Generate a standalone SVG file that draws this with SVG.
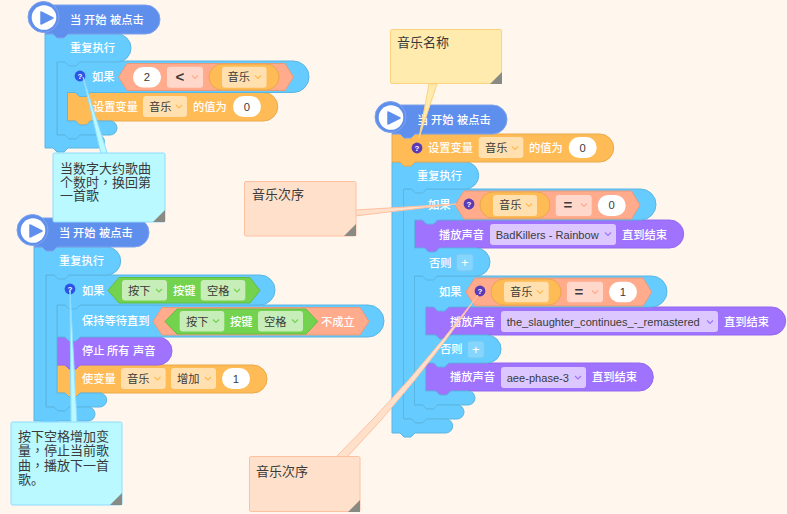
<svg xmlns="http://www.w3.org/2000/svg" width="787" height="514" viewBox="0 0 787 514">
<style>
text{font-family:"Liberation Sans","Noto Sans CJK SC",sans-serif;font-size:11.25px}
.w{fill:#fff;font-weight:500}.d{fill:#3a3a3a}
.l{font-size:11.1px}
.n{font-size:13px;fill:#3a3a3a}
.tc{font-family:"Noto Sans CJK TC",sans-serif}
.hat{fill:#5f8fec;stroke:#7ea2ec;stroke-width:1}
.ctl{fill:#66ccff;stroke:#5ab6e2;stroke-width:1}
.var{fill:#ffbb55;stroke:#e9a94c;stroke-width:1}
.snd{fill:#a073ff;stroke:#9468ee;stroke-width:1}
.op{fill:#ffab8c;stroke:#e8997c;stroke-width:1}
.sen{fill:#73d34f;stroke:#64bb44;stroke-width:1}
.pill{fill:#fff}
.dv{fill:#ffe0ae}.dop{fill:#ffd8cb}.ds{fill:#c7edb9}.dsn{fill:#dcc8ff}
.cv{stroke:#ffbb55}.co{stroke:#ffab8c}.cs{stroke:#73d34f}.cn{stroke:#a073ff}
.help{fill:#2c52e6}.helpv{fill:#5a3bb5}
.q{font-size:8px;font-weight:bold;fill:#fff;text-anchor:middle}
.plus{fill:#85d6ff;stroke:#78c7ee;stroke-width:1}
.nb{fill:#b9f9ff;stroke:#8fdcff;stroke-width:1}
.no{fill:#ffe1cb;stroke:#ffc0a0;stroke-width:1}
.ny{fill:#ffebae;stroke:#ffd27f;stroke-width:1}
.fold{fill:#8a8a84}
use{fill:none;stroke-width:1.2}
</style>
<defs><path id="c" d="M-3-1.5L0 1.5L3-1.5"/></defs>
<rect width="787" height="514" fill="#fff7ee"/>

<g id="block1-set"><path class="var" d="M67.5 92.5H263.5A14.25 14.25 0 0 1 263.5 121H90.5l-4 4h-7l-4-4H67.5Z"/>
<text class="w" x="93" y="111">设置变量</text>
<rect class="dv" x="143" y="96" width="44" height="21" rx="3"/><text class="d" x="149" y="111">音乐</text><use href="#c" x="179" y="106.5" class="cv"/>
<text class="w" x="193" y="111">的值为</text>
<rect class="pill" x="233" y="96" width="28" height="21" rx="10.5"/><text class="d" x="247" y="111" text-anchor="middle">0</text></g>
<g id="block1-if"><path class="ctl" d="M57 61H293.25A15.75 15.75 0 0 1 293.25 92.5H90.5l-4 4h-7l-4-4H67.5V121H75.5l4 4h7l4-4H110a7 7 0 0 1 0 14H80l-4 4h-7l-4-4H57Z"/>
<circle class="help" cx="80" cy="76" r="5.4"/><text class="q" x="80" y="79">?</text>
<text class="w" x="92" y="81">如果</text>
<path class="op" d="M118.5 77L127 63.5H285L293.5 77L285 90.5H127Z"/>
<rect class="pill" x="133" y="67" width="28" height="20.5" rx="10"/><text class="d" x="147" y="81" text-anchor="middle">2</text>
<rect class="dop" x="167" y="66.7" width="36" height="21" rx="3"/><text class="d" x="180" y="82" text-anchor="middle" style="font-size:15px;font-weight:bold">&lt;</text><use href="#c" x="195" y="77" class="co"/>
<rect class="var" x="209" y="64" width="70" height="26" rx="13"/>
<rect class="dv" x="222" y="66.7" width="44.6" height="21" rx="3"/><text class="d" x="227.5" y="81">音乐</text><use href="#c" x="258" y="77" class="cv"/></g>
<g id="block1-repeat"><path class="ctl" d="M45 34H117A14 14 0 0 1 117 62H80l-4 4h-7l-4-4H57V135H65l4 4h7l4-4H98a6.5 6.5 0 0 1 0 13H68l-4 4h-7l-4-4H45Z"/>
<text class="w" x="70" y="52">重复执行</text></g>
<g id="block1-hat"><path class="hat" d="M45 5H145.5A14.5 14.5 0 0 1 145.5 34H68l-4 4h-7l-4-4H45Z"/>
<circle cx="43.5" cy="17" r="15.5" fill="#5f8fec" stroke="#7ea2ec"/><circle cx="44" cy="17.5" r="12.3" fill="#fff"/><path d="M41 12L53 18L41 24Z" fill="#5f8fec" stroke="#5f8fec" stroke-width="1.5" stroke-linejoin="round"/>
<text class="w" x="70" y="24">当</text><text class="w" x="84" y="24">开始</text><text class="w" x="110" y="24">被点击</text></g>

<g id="block2-change"><path class="var" d="M57 365H253A14 14 0 0 1 253 393H80l-4 4h-7l-4-4H57Z"/>
<text class="w" x="82" y="383">使变量</text>
<rect class="dv" x="121" y="368" width="44.7" height="21" rx="3"/><text class="d" x="127" y="383">音乐</text><use href="#c" x="157.5" y="378.5" class="cv"/>
<rect class="dv" x="171" y="368" width="45" height="21" rx="3"/><text class="d" x="177" y="383">增加</text><use href="#c" x="208" y="378.5" class="cv"/>
<rect class="pill" x="222" y="368" width="28" height="21" rx="10.5"/><text class="d" x="236" y="383" text-anchor="middle">1</text></g>
<g id="block2-stop"><path class="snd" d="M57 337H158A14 14 0 0 1 158 365H80l-4 4h-7l-4-4H57Z"/>
<text class="w" x="82" y="355">停止</text><text class="w" x="107" y="355">所有</text><text class="w" x="133" y="355">声音</text></g>
<g id="block2-wait"><path class="ctl" d="M57 305H368A16 16 0 0 1 368 337H80l-4 4h-7l-4-4H57Z"/>
<text class="w" x="82" y="325">保持等待直到</text>
<path class="op" d="M153 321.5L162 307.5H360L369 321.5L360 335H162Z"/>
<path class="sen" d="M165 321.5L177 309H306L317.7 321.5L306 334H177Z"/>
<rect class="ds" x="179.7" y="311" width="44.6" height="20.6" rx="3"/><text class="d" x="186" y="325.5">按下</text><use href="#c" x="216" y="321" class="cs"/>
<text class="w" x="230" y="325.5">按键</text>
<rect class="ds" x="258" y="311" width="45" height="20.6" rx="3"/><text class="d" x="264" y="325.5">空格</text><use href="#c" x="295" y="321" class="cs"/>
<text class="w" x="321" y="325.5">不成立</text></g>
<g id="block2-if"><path class="ctl" d="M46 275H260A15 15 0 0 1 260 305H80l-4 4h-7l-4-4H57V393H65l4 4h7l4-4H99.7a7 7 0 0 1 0 14H69l-4 4h-7l-4-4H46Z"/>
<circle class="help" cx="70" cy="289" r="5.4"/><text class="q" x="70" y="292">?</text>
<text class="w" x="82" y="295">如果</text>
<path class="sen" d="M108 290.5L119 277.5H250L260 290.5L250 303H119Z"/>
<rect class="ds" x="122" y="280" width="45" height="20.6" rx="3"/><text class="d" x="128" y="295">按下</text><use href="#c" x="159" y="290.5" class="cs"/>
<text class="w" x="173" y="295">按键</text>
<rect class="ds" x="200.7" y="280" width="44.6" height="20.6" rx="3"/><text class="d" x="207" y="295">空格</text><use href="#c" x="237" y="290.5" class="cs"/></g>
<g id="block2-repeat"><path class="ctl" d="M34 247H106.7A14 14 0 0 1 106.7 275H69l-4 4h-7l-4-4H46V407H54l4 4h7l4-4H88a7 7 0 0 1 0 14H57l-4 4h-7l-4-4H34Z"/>
<text class="w" x="59" y="265">重复执行</text></g>
<g id="block2-hat"><path class="hat" d="M34 218H134.5A14.5 14.5 0 0 1 134.5 247H57l-4 4h-7l-4-4H34Z"/>
<circle cx="32.5" cy="230" r="15.5" fill="#5f8fec" stroke="#7ea2ec"/><circle cx="33" cy="230.5" r="12.3" fill="#fff"/><path d="M30 225L42 231L30 237Z" fill="#5f8fec" stroke="#5f8fec" stroke-width="1.5" stroke-linejoin="round"/>
<text class="w" x="59" y="237">当</text><text class="w" x="73" y="237">开始</text><text class="w" x="99" y="237">被点击</text></g>

<g id="block3-play3"><path class="snd" d="M425.7 363H639.3A14 14 0 0 1 639.3 391H450.7l-4 4h-7l-4-4H425.7Z"/>
<text class="w" x="450" y="381">播放声音</text>
<rect class="dsn" x="501" y="367" width="85" height="21" rx="3"/><text class="d l" x="506.7" y="381.5">aee-phase-3</text><use href="#c" x="578" y="377.5" class="cn"/>
<text class="w" x="592" y="381">直到结束</text></g>
<g id="block3-play2"><path class="snd" d="M425.7 307H771.7A14 14 0 0 1 771.7 335H450.7l-4 4h-7l-4-4H425.7Z"/>
<text class="w" x="450" y="326">播放声音</text>
<rect class="dsn" x="501" y="311" width="217" height="21" rx="3"/><text class="d l" x="506.7" y="326">the_slaughter_continues_-_remastered</text><use href="#c" x="710" y="322" class="cn"/>
<text class="w" x="724" y="326">直到结束</text></g>
<g id="block3-if2"><path class="ctl" d="M414.5 276H651.5A15.5 15.5 0 0 1 651.5 307H448.7l-4 4h-7l-4-4H425.7V335H435.7l4 4h7l4-4H487A14 14 0 0 1 487 363H448.7l-4 4h-7l-4-4H425.7V391H435.7l4 4h7l4-4H468a7 7 0 0 1 0 14H437.5l-4 4h-7l-4-4H414.5Z"/>
<text class="w" x="439" y="296">如果</text>
<path class="op" d="M465.7 292L475 278H643L651.7 292L643 306H475Z"/>
<circle class="helpv" cx="480" cy="291" r="5.4"/><text class="q" x="480" y="294">?</text>
<rect class="var" x="491" y="279" width="70" height="26" rx="13"/>
<rect class="dv" x="504" y="281.7" width="44.7" height="20.6" rx="3"/><text class="d" x="510" y="296">音乐</text><use href="#c" x="540" y="292" class="cv"/>
<rect class="dop" x="567" y="281.7" width="36" height="20.6" rx="3"/><text class="d" x="579" y="296.5" text-anchor="middle" style="font-size:15px;font-weight:bold">=</text><use href="#c" x="595" y="292" class="co"/>
<rect class="pill" x="609" y="281.7" width="28" height="20.6" rx="10.3"/><text class="d" x="623" y="296" text-anchor="middle">1</text>
<text class="w" x="440" y="353">否则</text>
<rect class="plus" x="467.3" y="341" width="17" height="17" rx="3"/><text class="w" x="475.8" y="354" text-anchor="middle" style="font-size:13px">+</text></g>
<g id="block3-play1"><path class="snd" d="M414.5 220H669.7A14 14 0 0 1 669.7 248H439.5l-4 4h-7l-4-4H414.5Z"/>
<text class="w" x="439" y="239">播放声音</text>
<rect class="dsn" x="490" y="224" width="126" height="21" rx="3"/><text class="d l" x="495.7" y="239">BadKillers - Rainbow</text><use href="#c" x="608" y="234" class="cn"/>
<text class="w" x="622" y="239">直到结束</text></g>
<g id="block3-if1"><path class="ctl" d="M403.5 189H640.5A15.5 15.5 0 0 1 640.5 220H437.5l-4 4h-7l-4-4H414.5V248H424.5l4 4h7l4-4H476A14 14 0 0 1 476 276H437.5l-4 4h-7l-4-4H414.5V405H422.5l4 4h7l4-4H457a7 7 0 0 1 0 14H426.5l-4 4h-7l-4-4H403.5Z"/>
<text class="w" x="428" y="209">如果</text>
<path class="op" d="M455 205L464 191H631.5L640 205L631.5 219H464Z"/>
<circle class="helpv" cx="469" cy="204" r="5.4"/><text class="q" x="469" y="207">?</text>
<rect class="var" x="480" y="192" width="70" height="26" rx="13"/>
<rect class="dv" x="493" y="195" width="44" height="21" rx="3"/><text class="d" x="499" y="209">音乐</text><use href="#c" x="529" y="205" class="cv"/>
<rect class="dop" x="555.7" y="195" width="36" height="21" rx="3"/><text class="d" x="568" y="209.5" text-anchor="middle" style="font-size:15px;font-weight:bold">=</text><use href="#c" x="584" y="205" class="co"/>
<rect class="pill" x="597.7" y="195" width="28" height="21" rx="10.5"/><text class="d" x="611.7" y="209" text-anchor="middle">0</text>
<text class="w" x="429" y="267">否则</text>
<rect class="plus" x="456.3" y="254" width="17" height="17" rx="3"/><text class="w" x="464.8" y="267" text-anchor="middle" style="font-size:13px">+</text></g>
<g id="block3-repeat"><path class="ctl" d="M392 162H465.2A13.5 13.5 0 0 1 465.2 189H426.5l-4 4h-7l-4-4H403.5V419H411.5l4 4h7l4-4H445.7a7 7 0 0 1 0 14H415l-4 4h-7l-4-4H392Z"/>
<text class="w" x="417" y="180">重复执行</text></g>
<g id="block3-set"><path class="var" d="M392 134H599.7A14 14 0 0 1 599.7 162H415l-4 4h-7l-4-4H392Z"/>
<circle class="helpv" cx="417" cy="148" r="5.4"/><text class="q" x="417" y="151">?</text>
<text class="w" x="428" y="152">设置变量</text>
<rect class="dv" x="478.7" y="137" width="44.6" height="21" rx="3"/><text class="d" x="485" y="152">音乐</text><use href="#c" x="515" y="148" class="cv"/>
<text class="w" x="529" y="152">的值为</text>
<rect class="pill" x="568.7" y="137" width="28" height="21" rx="10.5"/><text class="d" x="582.7" y="152" text-anchor="middle">0</text></g>
<g id="block3-hat"><path class="hat" d="M392 105H492.5A14.5 14.5 0 0 1 492.5 134H415l-4 4h-7l-4-4H392Z"/>
<circle cx="390.5" cy="117" r="15.5" fill="#5f8fec" stroke="#7ea2ec"/><circle cx="391" cy="117.5" r="12.3" fill="#fff"/><path d="M388 112L400 118L388 124Z" fill="#5f8fec" stroke="#5f8fec" stroke-width="1.5" stroke-linejoin="round"/>
<text class="w" x="417" y="124">当</text><text class="w" x="431" y="124">开始</text><text class="w" x="457" y="124">被点击</text></g>

<g id="connectors">
<polygon class="nb" points="101,154 107.5,154 83,77"/>
<polygon class="nb" points="71,423 77,423 70,290"/>
<polygon class="no" points="355,210 355,216 456,204"/>
<path class="no" d="M336 457Q411 383 478 295Q415.5 386 347 457Z"/>
<polygon class="ny" points="429,84 437,84 419,138"/>
</g>

<g id="note-wrap"><rect class="nb" x="53" y="153" width="112" height="69" rx="1.5"/><path class="fold" d="M165 210V222H153Z"/>
<text class="n" x="60" y="173">当数字大约歌曲</text><text class="n" x="60" y="186.5">个数时<tspan class="tc">，</tspan>换回第</text><text class="n" x="60" y="200">一首歌</text></g>
<g id="note-space"><rect class="nb" x="11" y="422" width="111" height="83" rx="1.5"/><path class="fold" d="M122 493V505H110Z"/>
<text class="n" x="18" y="441">按下空格增加变</text><text class="n" x="18" y="455">量<tspan class="tc">，</tspan>停止当前歌</text><text class="n" x="18" y="469.5">曲<tspan class="tc">，</tspan>播放下一首</text><text class="n" x="18" y="483.5">歌。</text></g>
<g id="note-order1"><rect class="no" x="244.5" y="181.5" width="111.5" height="54.5" rx="1.5"/><path class="fold" d="M356 224V236H344Z"/>
<text class="n" x="252" y="199">音乐次序</text></g>
<g id="note-order2"><rect class="no" x="249.5" y="456.5" width="110.5" height="55" rx="1.5"/><path class="fold" d="M360 500V512H348Z"/>
<text class="n" x="256" y="475.5">音乐次序</text></g>
<g id="note-name"><rect class="ny" x="390.5" y="29.5" width="111" height="54" rx="1.5"/><path class="fold" d="M502 72V84H490Z"/>
<text class="n" x="397" y="47">音乐名称</text></g>
</svg>
